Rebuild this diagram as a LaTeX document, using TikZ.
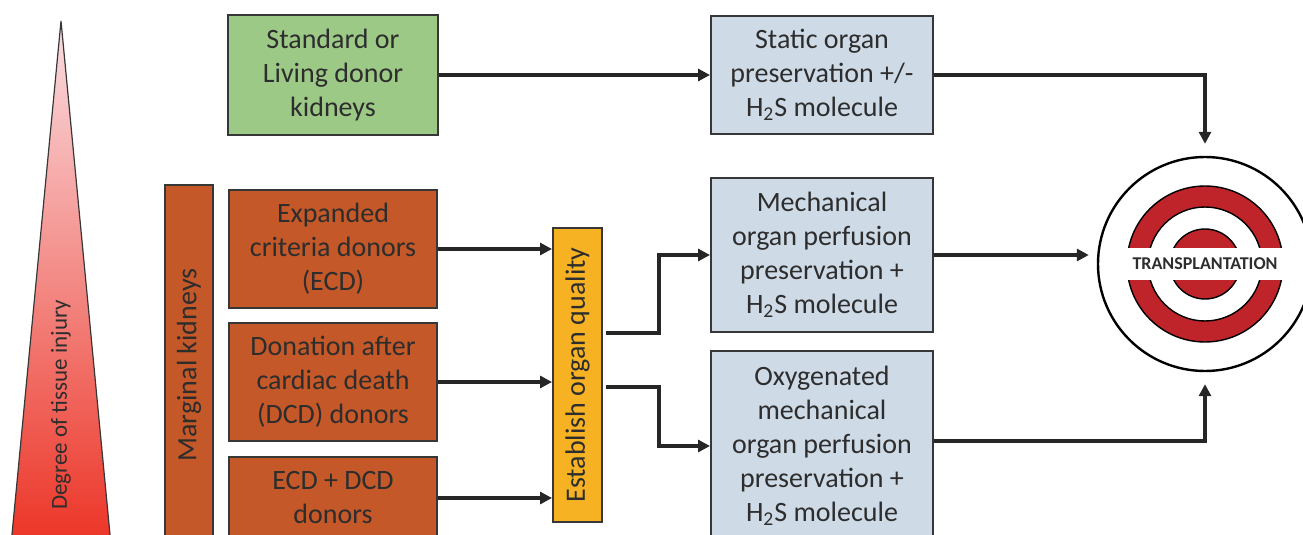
\documentclass[tikz,border=0pt]{standalone}
\usepackage{fontspec}
\setmainfont{Carlito}
\usepackage{graphicx}
\usepackage{xcolor}
\usepackage{tikz}
\usetikzlibrary{calc,arrows.meta}
\definecolor{stdgreen}{RGB}{157,201,135}
\definecolor{margorange}{RGB}{196,88,40}
\definecolor{presblue}{RGB}{206,218,230}
\definecolor{qualyellow}{RGB}{247,178,36}
\definecolor{ringred}{RGB}{190,36,42}
\definecolor{injpink}{RGB}{250,222,226}
\definecolor{injred}{RGB}{236,52,38}
\definecolor{edgegray}{RGB}{55,55,55}
\definecolor{txtgray}{RGB}{45,45,45}

\begin{document}
\begin{tikzpicture}[x=0.5pt, y=-0.5pt,
  box/.style={draw=edgegray, line width=1pt, align=center, text=txtgray, font=\fontsize{14}{17}\selectfont, inner sep=2pt},
  stdbox/.style={box, fill=stdgreen, minimum width=105pt, minimum height=60pt},
  margbox/.style={box, fill=margorange, minimum width=104pt, minimum height=59pt},
  presbox/.style={box, fill=presblue, minimum width=111pt},
  flow/.style={-{Triangle[length=6pt, width=6pt]}, line width=1.6pt, draw=black!85}]
  \useasboundingbox (0,0) rectangle (1303,535);
  % injury wedge
  \shade[top color=injpink, bottom color=injred] (61,21) -- (11,545) -- (111,545) -- cycle;
  \draw[edgegray, line width=0.6pt] (11,545) -- (61,21) -- (111,545);
  \node[rotate=90, text=txtgray, font=\fontsize{11.5}{13}\selectfont] (injury) at (61,405) {Degree of tissue injury};
  \node[box, fill=margorange, minimum width=24pt, minimum height=180pt] (marg) at (189,365) {\rotatebox{90}{Marginal kidneys}};
  % donor kidneys
  \node[stdbox] (std) at (333,75) {Standard or\\Living donor\\kidneys};
  \node[margbox] (ecd) at (333,249) {Expanded\\criteria donors\\(ECD)};
  \node[margbox] (dcd) at (333,382) {Donation after\\cardiac death\\(DCD) donors};
  \node[margbox, minimum height=41pt] (both) at (333,498) {ECD + DCD\\donors};
  \node[box, fill=qualyellow, minimum width=24.5pt, minimum height=147pt] (quality) at (577.5,375) {\rotatebox{90}{Establish organ quality}};
  % preservation
  \node[presbox, minimum height=59pt] (static) at (822,75) {Static organ\\preservation +/-\\H\textsubscript{2}S molecule};
  \node[presbox, minimum height=77pt] (mp) at (822,255) {Mechanical\\organ perfusion\\preservation +\\H\textsubscript{2}S molecule};
  \node[presbox, minimum height=95pt] (omp) at (822,446) {Oxygenated\\mechanical\\organ perfusion\\preservation +\\H\textsubscript{2}S molecule};
  % target
  \node[circle, draw=black, line width=1.2pt, fill=white, minimum size=107pt, inner sep=0pt] (tx) at (1205,264) {};
  \draw[black, line width=0.7pt, fill=ringred, even odd rule] (tx.center) circle (39pt) circle (28.5pt);
  \draw[black, line width=0.7pt, fill=ringred] (tx.center) circle (17.5pt);
  \node[fill=white, minimum width=80pt, minimum height=16pt, inner sep=0pt, text=txtgray, font=\bfseries\fontsize{9}{10}\selectfont] (txlabel) at (tx.center) {TRANSPLANTATION};
  % connectors
  \draw[flow] (std.east) -- (static.west);
  \draw[flow] (ecd.east) -- (ecd.east -| quality.west);
  \draw[flow] (dcd.east) -- (dcd.east -| quality.west);
  \draw[flow] (both.east) -- (both.east -| quality.west);
  \draw[flow] ($(quality.east)+(3,-42)$) -- ++(53,0) |- (mp.west);
  \draw[flow] ($(quality.east)+(3,12)$) -- ++(53,0) |- (omp.west);
  \draw[flow, shorten >=6pt] (static.east) -| (tx.north);
  \draw[flow, shorten >=4pt] (mp.east) -- (mp.east -| tx.west);
  \draw[flow, shorten >=6pt] ($(omp.east)+(0,-5)$) -| (tx.south);
\end{tikzpicture}
\end{document}
